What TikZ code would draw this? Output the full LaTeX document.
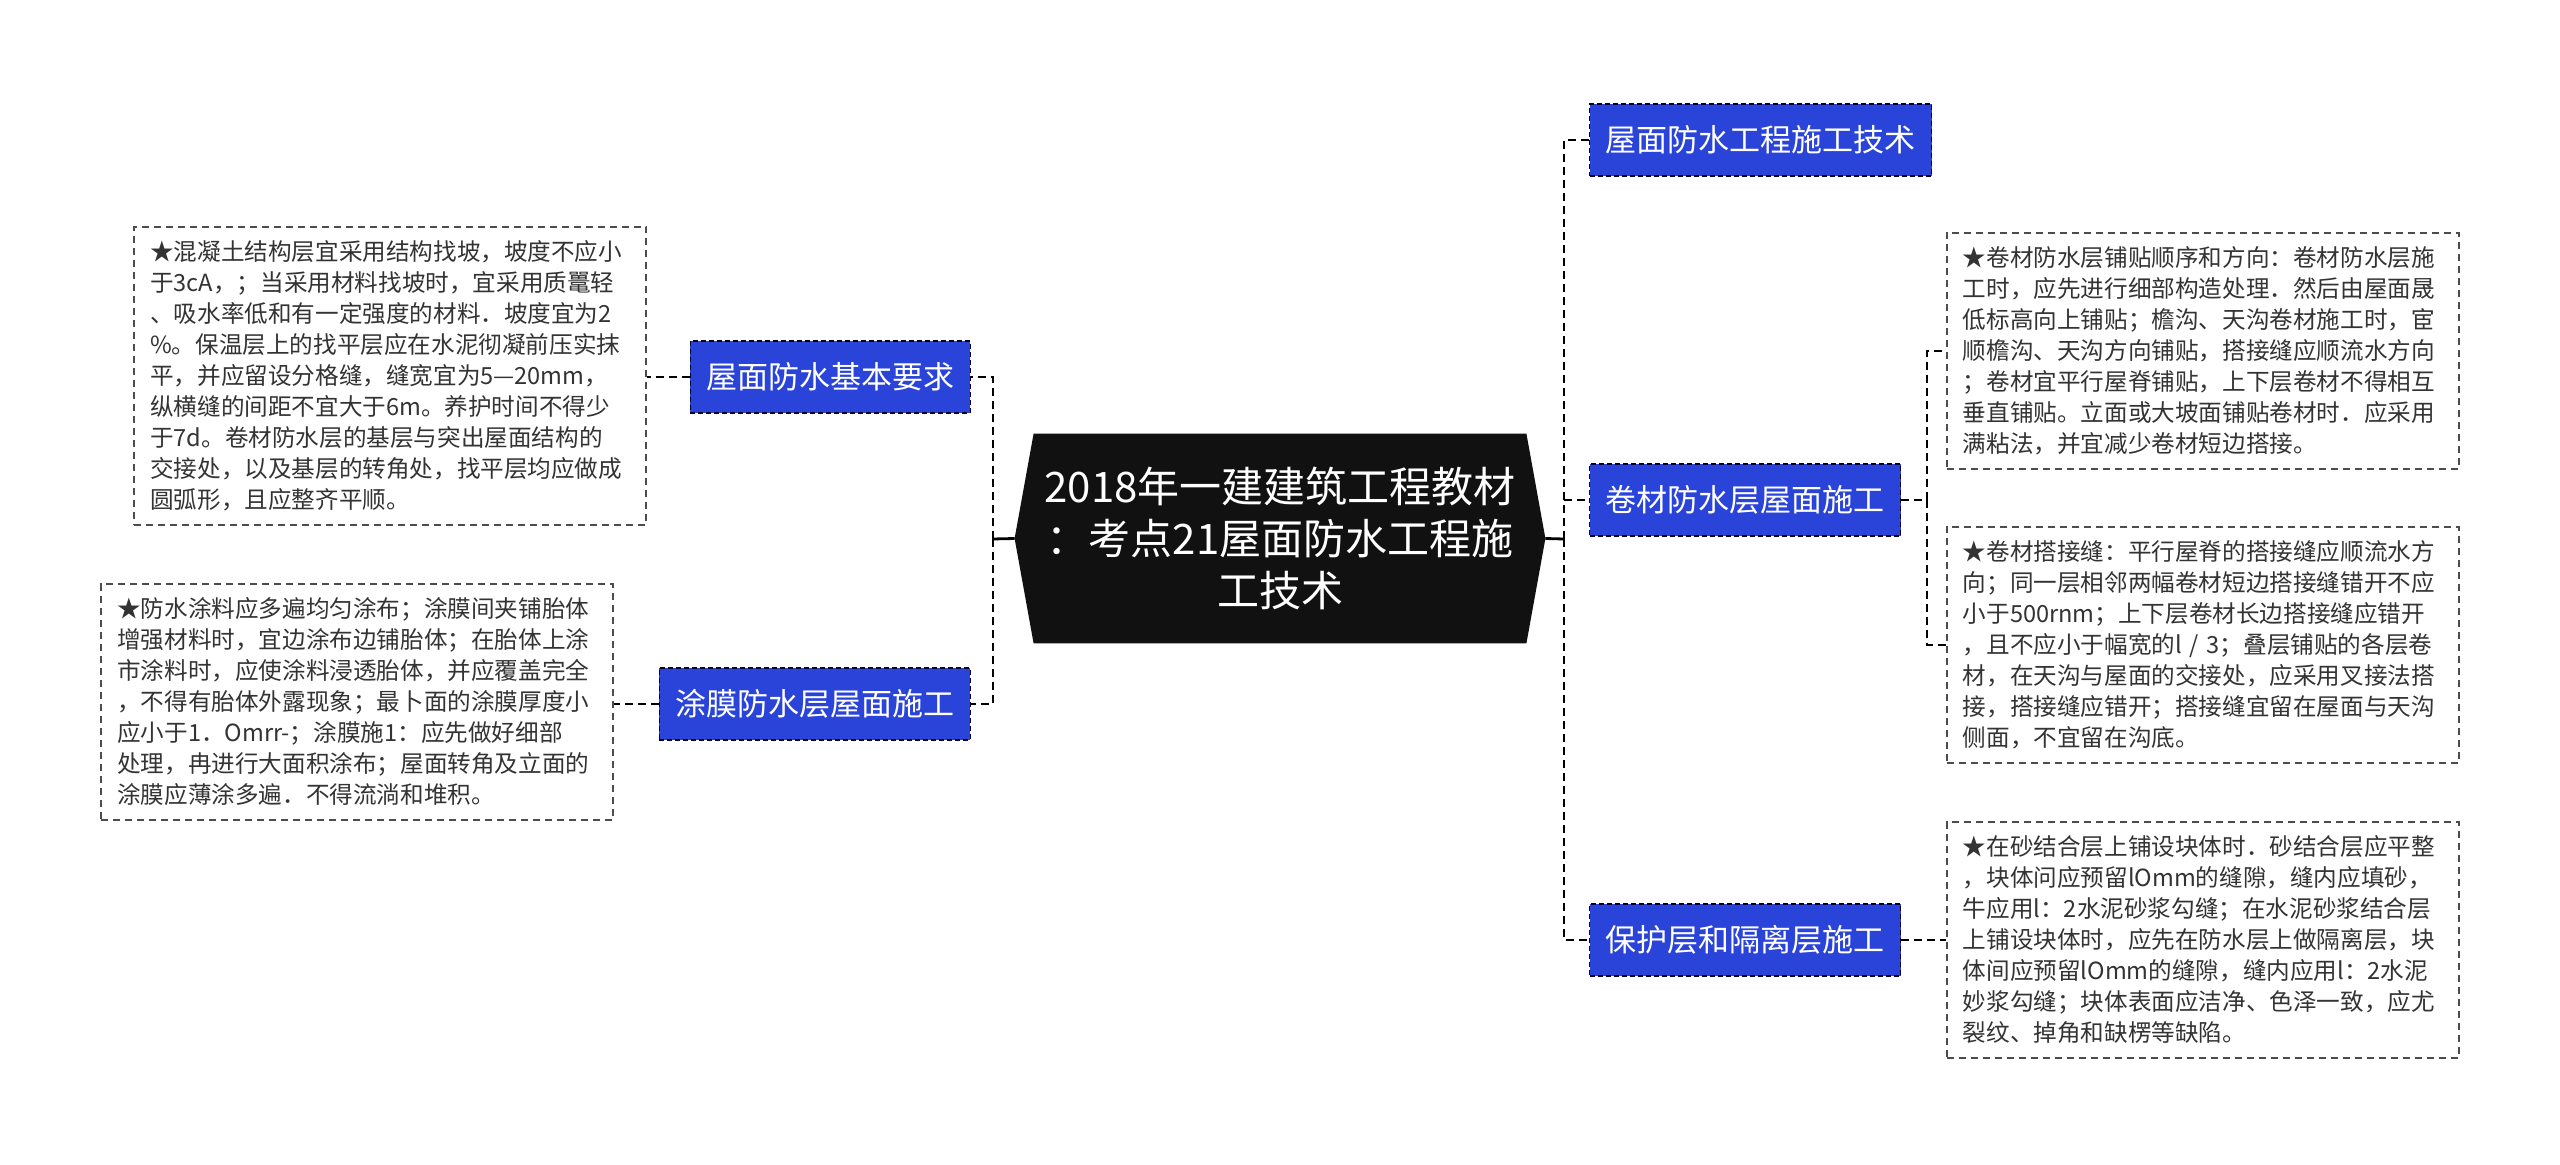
\documentclass[tikz,border=0pt]{standalone}
\usepackage{fontspec}
\setmainfont{Noto Sans CJK SC}
\usetikzlibrary{backgrounds}
\definecolor{topicblue}{RGB}{42,68,217}
\definecolor{rootblack}{RGB}{17,17,17}
\definecolor{notegray}{RGB}{51,51,51}

\begin{document}
\begin{tikzpicture}[x=0.5pt, y=-0.5pt,
    root/.style={text=white, font=\fontsize{21}{26}\selectfont, align=center, minimum width=265pt, minimum height=104.5pt, inner sep=0pt},
    topic/.style={fill=topicblue, draw=black!85!blue, dash pattern=on 2.5pt off 1.5pt, line width=0.7pt, text=white, font=\fontsize{15.5}{18}\selectfont, minimum height=36pt, inner xsep=8pt},
    note/.style={draw=black!70, dash pattern=on 3.5pt off 2.5pt, line width=0.8pt, fill=white, text=notegray, font=\fontsize{11.8}{15.5}\selectfont, align=left, text width=240pt, inner xsep=8pt, inner ysep=7pt},
    link/.style={line width=1.4pt, dash pattern=on 4pt off 2.5pt},
    trunk/.style={line width=1.4pt}]

    \useasboundingbox (0,0) rectangle (2560,1165);

    % Root
    \node[root] (root) at (1280,538.5) {2018年一建建筑工程教材\\：考点21屋面防水工程施\\工技术};
    \begin{scope}[on background layer]
        \fill[rootblack] ([xshift=9.5pt]root.north west) -- ([xshift=-9.5pt]root.north east) -- (root.east)
            -- ([xshift=-9.5pt]root.south east) -- ([xshift=9.5pt]root.south west) -- (root.west) -- cycle;
    \end{scope}

    % Topics
    \node[topic, anchor=east] (basic) at (971,377) {屋面防水基本要求};
    \node[topic, anchor=east] (coating) at (971,704) {涂膜防水层屋面施工};
    \node[topic, anchor=west] (tech) at (1589,140) {屋面防水工程施工技术};
    \node[topic, anchor=west] (roll) at (1589,500) {卷材防水层屋面施工};
    \node[topic, anchor=west] (protect) at (1589,940) {保护层和隔离层施工};

    % Notes
    \node[note, anchor=east] (basicnote) at (647,376) {★混凝土结构层宜采用结构找坡，坡度不应小\\于3cA，；当采用材料找坡时，宜采用质鼍轻\\、吸水率低和有一定强度的材料．坡度宜为2\\\%。保温层上的找平层应在水泥彻凝前压实抹\\平，并应留设分格缝，缝宽宜为5—20mm，\\纵横缝的间距不宜大于6m。养护时间不得少\\于7d。卷材防水层的基层与突出屋面结构的\\交接处，以及基层的转角处，找平层均应做成\\圆弧形，且应整齐平顺。};
    \node[note, anchor=east] (coatingnote) at (614,702) {★防水涂料应多遍均匀涂布；涂膜间夹铺胎体\\增强材料时，宜边涂布边铺胎体；在胎体上涂\\市涂料时，应使涂料浸透胎体，并应覆盖完全\\，不得有胎体外露现象；最卜面的涂膜厚度小\\应小于1．Omrr-；涂膜施1：应先做好细部\\处理，冉进行大面积涂布；屋面转角及立面的\\涂膜应薄涂多遍．不得流淌和堆积。};
    \node[note, anchor=west] (rollnote1) at (1946,351) {★卷材防水层铺贴顺序和方向：卷材防水层施\\工时，应先进行细部构造处理．然后由屋面晟\\低标高向上铺贴；檐沟、天沟卷材施工时，宦\\顺檐沟、天沟方向铺贴，搭接缝应顺流水方向\\；卷材宜平行屋脊铺贴，上下层卷材不得相互\\垂直铺贴。立面或大坡面铺贴卷材时．应采用\\满粘法，并宜减少卷材短边搭接。};
    \node[note, anchor=west] (rollnote2) at (1946,645) {★卷材搭接缝：平行屋脊的搭接缝应顺流水方\\向；同一层相邻两幅卷材短边搭接缝错开不应\\小于500rnm；上下层卷材长边搭接缝应错开\\，且不应小于幅宽的l / 3；叠层铺贴的各层卷\\材，在天沟与屋面的交接处，应采用叉接法搭\\接，搭接缝应错开；搭接缝宜留在屋面与天沟\\侧面，不宜留在沟底。};
    \node[note, anchor=west] (protectnote) at (1946,940) {★在砂结合层上铺设块体时．砂结合层应平整\\，块体问应预留lOmm的缝隙，缝内应填砂，\\牛应用l：2水泥砂浆勾缝；在水泥砂浆结合层\\上铺设块体时，应先在防水层上做隔离层，块\\体间应预留lOmm的缝隙，缝内应用l：2水泥\\妙浆勾缝；块体表面应洁净、色泽一致，应尤\\裂纹、掉角和缺楞等缺陷。};

    % Connectors
    \coordinate (ljoin) at (993,539);
    \coordinate (rjoin) at (1564,539);
    \coordinate (rolljoin) at (1927,500);
    \draw[trunk] (root.west) -- (ljoin);
    \draw[link] (ljoin) |- (basic.east);
    \draw[link] (ljoin) |- (coating.east);
    \draw[trunk] (root.east) -- (rjoin);
    \draw[link] (rjoin) |- (tech.west);
    \draw[link] (rjoin) |- (roll.west);
    \draw[link] (rjoin) |- (protect.west);
    \draw[link] (basic.west) -- (basicnote.east |- basic.west);
    \draw[link] (coating.west) -- (coatingnote.east |- coating.west);
    \draw[link] (roll.east) -- (rolljoin);
    \draw[link] (rolljoin) |- (rollnote1.west);
    \draw[link] (rolljoin) |- (rollnote2.west);
    \draw[link] (protect.east) -- (protectnote.west);

\end{tikzpicture}
\end{document}
